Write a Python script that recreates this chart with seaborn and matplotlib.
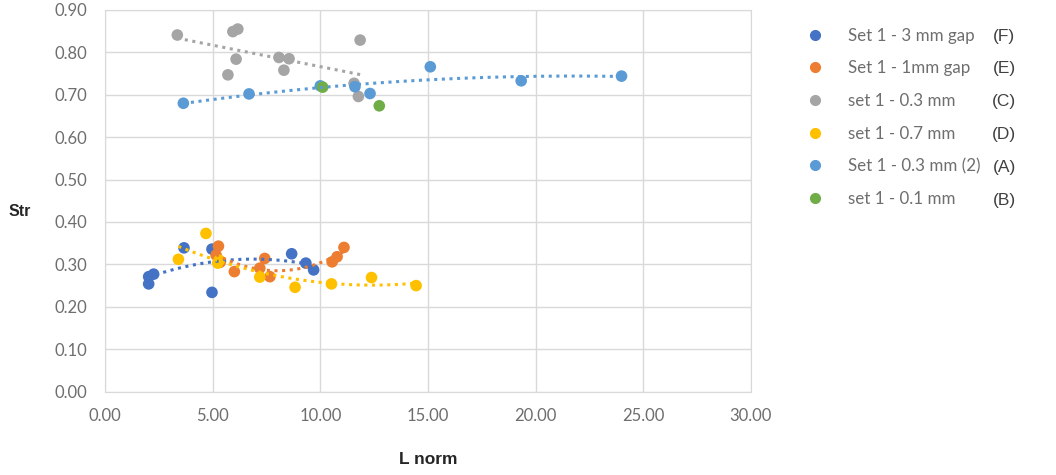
import numpy as np
import pandas as pd
import matplotlib
matplotlib.use("Agg")
import matplotlib.pyplot as plt
import seaborn as sns
from matplotlib.lines import Line2D

# data
gap3_x = [2.03, 2.03, 2.26, 3.67, 4.97, 4.97, 8.67, 9.33, 9.69]
gap3_y = [0.271, 0.254, 0.277, 0.339, 0.336, 0.234, 0.325, 0.303, 0.287]

gap1_x = [5.27, 5.16, 5.35, 6.01, 7.42, 7.19, 7.66, 10.55, 10.78, 11.10]
gap1_y = [0.343, 0.322, 0.305, 0.283, 0.314, 0.291, 0.271, 0.306, 0.318, 0.340]

mm03_x = [3.36, 5.94, 6.17, 6.09, 5.71, 8.08, 8.55, 8.31, 11.85, 11.57, 11.77]
mm03_y = [0.841, 0.849, 0.855, 0.784, 0.747, 0.788, 0.785, 0.758, 0.829, 0.727, 0.696]

mm07_x = [4.69, 3.41, 5.24, 5.30, 7.19, 8.83, 10.52, 12.38, 14.45]
mm07_y = [0.373, 0.312, 0.303, 0.310, 0.270, 0.246, 0.254, 0.269, 0.250]

mm03b_x = [3.64, 6.69, 10.00, 11.61, 12.31, 15.11, 19.33, 23.99]
mm03b_y = [0.680, 0.702, 0.721, 0.719, 0.703, 0.766, 0.733, 0.744]

mm01_x = [10.11, 12.74]
mm01_y = [0.718, 0.674]

series = ["Set 1 - 3 mm gap", "Set 1 - 1mm gap", "set 1 - 0.3 mm",
          "set 1 - 0.7 mm", "Set 1 - 0.3 mm (2)", "set 1 - 0.1 mm"]
tags = ["(F)", "(E)", "(C)", "(D)", "(A)", "(B)"]
colors = ["#4472C4", "#ED7D31", "#A5A5A5", "#FFC000", "#5B9BD5", "#70AD47"]
# trendline order per series (0 = no trendline)
orders = [2, 2, 1, 2, 2, 0]

xs = [gap3_x, gap1_x, mm03_x, mm07_x, mm03b_x, mm01_x]
ys = [gap3_y, gap1_y, mm03_y, mm07_y, mm03b_y, mm01_y]

frames = []
for name, x, y in zip(series, xs, ys):
    frames.append(pd.DataFrame({"L norm": x, "Str": y, "series": name}))
df = pd.concat(frames, ignore_index=True)

sns.set_style("white")
plt.rcParams["font.family"] = ["Lato", "DejaVu Sans"]

fig = plt.figure(figsize=(10.56, 4.75), dpi=100)
ax = fig.add_axes([0.0994, 0.1756, 0.6117, 0.8034])

palette = dict(zip(series, colors))
sns.scatterplot(data=df, x="L norm", y="Str", hue="series", hue_order=series,
                palette=palette, s=70, edgecolor="none", legend=False,
                ax=ax, zorder=3)

# dotted trendlines (polynomial fits like the Excel ones)
for name, order in zip(series, orders):
    if order == 0:
        continue
    sub = df[df["series"] == name]
    sns.regplot(data=sub, x="L norm", y="Str", order=order, ci=None,
                scatter=False, truncate=True, ax=ax,
                line_kws=dict(color=palette[name], ls=(0, (1, 1.5)), lw=2.2, zorder=4))

ax.set_xlim(0, 30)
ax.set_ylim(0, 0.9)
ax.set_xticks(np.arange(0, 30.1, 5))
ax.set_yticks(np.arange(0, 0.91, 0.1))
ax.xaxis.set_major_formatter(matplotlib.ticker.FormatStrFormatter("%.2f"))
ax.yaxis.set_major_formatter(matplotlib.ticker.FormatStrFormatter("%.2f"))
ax.grid(True, color="#d9d9d9", lw=1)
ax.set_axisbelow(True)
for sp in ax.spines.values():
    sp.set_color("#d9d9d9")
ax.tick_params(axis="both", length=0, labelsize=12, labelcolor="#6e6e6e")
ax.tick_params(axis="x", pad=12)
ax.tick_params(axis="y", pad=13)
ax.set_xlabel("")
ax.set_ylabel("")

fig.text(20 / 1056, 1 - 212 / 475, "Str", fontsize=11.5, fontweight="bold",
         family="Liberation Sans", ha="center", va="center")
fig.text(428 / 1056, 1 - 460 / 475, "L norm", fontsize=12.5, fontweight="bold",
         family="Liberation Sans", ha="center", va="center")

# legend
handles = [Line2D([], [], marker="o", ls="", color=c, markersize=7) for c in colors]
leg = fig.legend(handles, series, loc="upper left",
                 bbox_to_anchor=(800 / 1056, 1 - 21 / 475), frameon=False,
                 fontsize=12.2, labelcolor="#6e6e6e", handlelength=1.0,
                 handletextpad=1.44, labelspacing=0.98, borderaxespad=0)
for i, t in enumerate(tags):
    fig.text(1004 / 1056, 1 - (36 + i * 32.8) / 475, t, fontsize=12.5,
             color="#404040", ha="center", va="center",
             family="Liberation Sans")

fig.savefig("out.png", dpi=100)
